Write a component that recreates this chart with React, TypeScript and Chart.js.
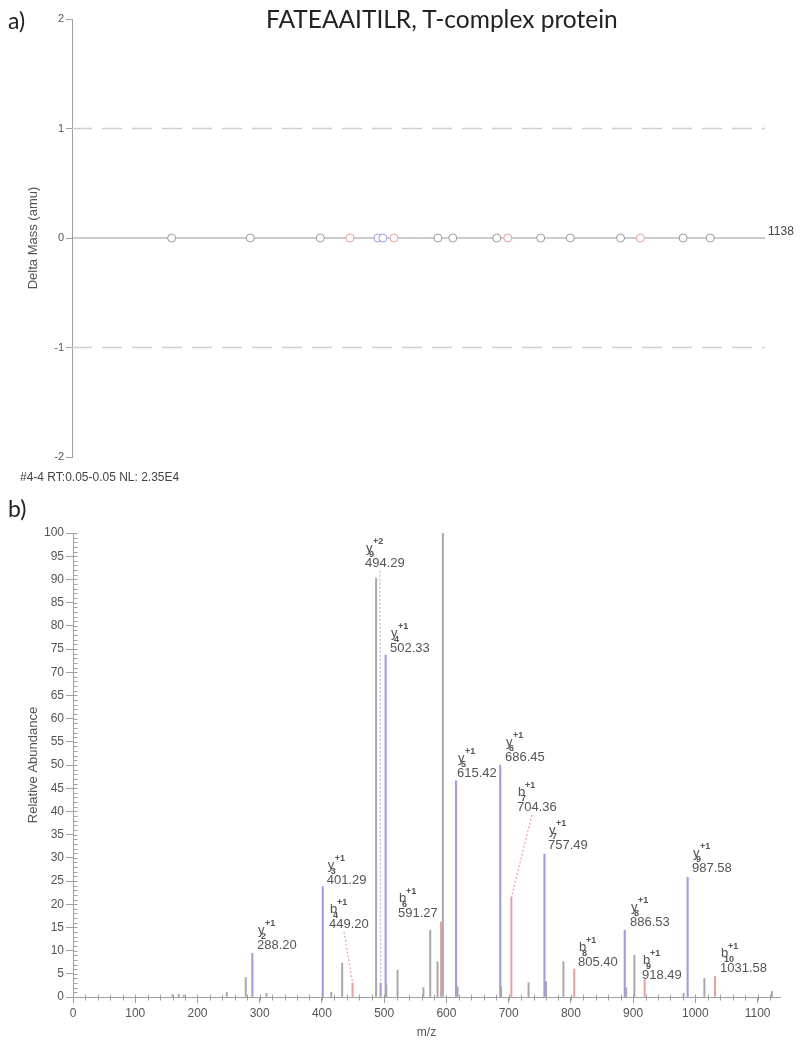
import React, { useEffect, useRef } from "react";
import { Chart, registerables } from "chart.js";
Chart.register(...registerables);

const SANS = "'Liberation Sans', Arial, sans-serif";
Chart.defaults.font.family = SANS;

// ---------- text ----------
const PANEL_A = "a)";
const PANEL_B = "b)";
const TITLE = "FATEAAITILR, T-complex protein";
const SCAN_INFO = "#4-4 RT:0.05-0.05 NL: 2.35E4";
const Y_TITLE_A = "Delta Mass (amu)";
const Y_TITLE_B = "Relative Abundance";
const X_TITLE_B = "m/z";
const END_LABEL_A = "1138";

// ---------- panel a : delta mass of matched ions ----------
const A_X_MAX = 1120;
const A_TICKS = [-2, -1, 0, 1, 2];
const A_REF_DASHED = [1, -1];
const A_MZ = [161, 288.2, 401.29, 449.2, 494.29, 502.33, 520.24, 591.27, 615.42, 686.45, 704.36, 757.49, 805.4, 886.53, 918.49, 987.58, 1031.58];
const A_DELTA = [0, 0, 0, 0, 0, 0, 0, 0, 0, 0, 0, 0, 0, 0, 0, 0, 0];
const A_KIND = ["n", "n", "n", "b", "y", "y", "b", "n", "n", "n", "b", "n", "n", "n", "b", "n", "n"];

// ---------- panel b : spectrum ----------
const B_X_MAX = 1136;
const B_X_TICKS = [0, 100, 200, 300, 400, 500, 600, 700, 800, 900, 1000, 1100];
const GREY_MZ = [160, 170, 178, 247, 277.5, 311, 415, 432.5, 487, 503.5, 521.5, 563, 574, 585.7, 594.3, 617.9, 687.8, 732, 760, 788, 888.8, 902, 981, 1014.5, 1123];
const GREY_I = [0.5, 0.6, 0.4, 1.0, 4.2, 0.8, 1.0, 7.3, 90.3, 2.6, 5.8, 2.0, 14.4, 7.6, 100, 2.2, 2.3, 3.1, 3.3, 7.6, 2.0, 9.0, 0.8, 4.0, 1.2];
const BLUE_MZ = [288.2, 401.29, 494.29, 502.33, 615.42, 686.45, 757.49, 886.53, 987.58];
const BLUE_I = [9.4, 23.8, 3.0, 73.7, 46.6, 50.0, 30.8, 14.4, 25.8];
const RED_MZ = [449.2, 591.27, 704.36, 805.4, 918.49, 1031.58];
const RED_I = [3.0, 16.2, 21.5, 6.0, 3.7, 4.4];

// annotations
const ANN_MZ = [288.2, 401.29, 449.2, 494.29, 502.33, 591.27, 615.42, 686.45, 704.36, 757.49, 805.4, 886.53, 918.49, 987.58, 1031.58];
const ANN_ION = ["y", "y", "b", "y", "y", "b", "y", "y", "b", "y", "b", "y", "b", "y", "b"];
const ANN_NUM = ["2", "3", "4", "9", "4", "6", "5", "6", "7", "7", "8", "8", "9", "9", "10"];
const ANN_CHARGE = ["+1", "+1", "+1", "+2", "+1", "+1", "+1", "+1", "+1", "+1", "+1", "+1", "+1", "+1", "+1"];
// where each label sits (m/z, relative abundance of its baseline)
const ANN_AT_MZ = [295.6, 407.6, 411.3, 469.2, 509.3, 522.2, 617.0, 694.1, 713.4, 763.2, 811.4, 894.9, 914.2, 994.5, 1039.7];
const ANN_AT_I = [10.1, 24.1, 14.7, 92.5, 74.1, 17.0, 47.2, 50.6, 39.9, 31.7, 6.5, 15.1, 3.7, 26.7, 5.2];
const ANN_LEADER = [false, false, true, true, false, false, false, false, true, false, false, false, false, false, false];

const GREY = "#a8a8a8";
const BLUE = "#9c9ce6";
const RED = "#eba0a0";
const AXIS = "#a0a0a0";
const TEXT = "#555555";

const peakHeight = (mz: number, ion: string) => {
  const xs = ion === "b" ? RED_MZ : BLUE_MZ;
  const ys = ion === "b" ? RED_I : BLUE_I;
  const k = xs.indexOf(mz);
  return k >= 0 ? ys[k] : 0;
};

function TopChart() {
  const ref = useRef<HTMLCanvasElement | null>(null);
  useEffect(() => {
    if (!ref.current) return;
    const endLabel = {
      id: "endLabel",
      afterDatasetsDraw(chart: any) {
        const { ctx, chartArea, scales } = chart;
        ctx.save();
        ctx.fillStyle = "#444";
        ctx.font = `12px ${SANS}`;
        ctx.textBaseline = "alphabetic";
        ctx.fillText(END_LABEL_A, chartArea.right + 3, scales.y.getPixelForValue(0) - 3);
        ctx.restore();
      },
    };
    const colorFor = (k: string) => (k === "b" ? RED : k === "y" ? BLUE : "#9a9a9a");
    const chart = new Chart(ref.current, {
      type: "scatter",
      data: {
        datasets: [
          {
            type: "line",
            data: [
              { x: 0, y: 0 },
              { x: A_X_MAX, y: 0 },
            ],
            borderColor: "#999",
            borderWidth: 1,
            pointRadius: 0,
            order: 3,
          } as any,
          ...A_REF_DASHED.map((v) => ({
            type: "line",
            data: [
              { x: 0, y: v },
              { x: A_X_MAX, y: v },
            ],
            borderColor: "#cfcfcf",
            borderWidth: 1.5,
            borderDash: [20, 10],
            pointRadius: 0,
            order: 3,
          })) as any,
          {
            type: "scatter",
            data: A_MZ.map((m, i) => ({ x: m, y: A_DELTA[i] })),
            pointRadius: 4,
            pointBorderWidth: 1,
            pointBorderColor: A_KIND.map(colorFor),
            pointBackgroundColor: "#ffffff",
            order: 1,
          } as any,
        ],
      },
      options: {
        animation: false,
        responsive: false,
        events: [],
        layout: { padding: { left: 26, top: 19, right: 35, bottom: 33 } },
        plugins: { legend: { display: false }, tooltip: { enabled: false } },
        scales: {
          x: { type: "linear", min: 0, max: A_X_MAX, display: false },
          y: {
            min: -2,
            max: 2,
            afterBuildTicks: (s: any) => {
              s.ticks = A_TICKS.map((v) => ({ value: v }));
            },
            afterFit: (s: any) => {
              s.width = 46;
            },
            ticks: { color: TEXT, font: { size: 11 }, padding: 2, callback: (v: any) => `${v}` },
            grid: { drawOnChartArea: false, tickLength: 6, color: AXIS },
            border: { color: AXIS },
            title: { display: true, text: Y_TITLE_A, color: TEXT, font: { size: 13 }, padding: 0 },
          },
        },
      },
      plugins: [endLabel],
    } as any);
    return () => chart.destroy();
  }, []);
  return <canvas ref={ref} width={800} height={490} style={{ position: "absolute", left: 0, top: 0 }} />;
}

function BottomChart() {
  const ref = useRef<HTMLCanvasElement | null>(null);
  useEffect(() => {
    if (!ref.current) return;
    const minorTicks = {
      id: "minorTicks",
      afterDraw(chart: any) {
        const { ctx, scales } = chart;
        const { x, y } = scales;
        ctx.save();
        ctx.strokeStyle = AXIS;
        ctx.lineWidth = 1;
        ctx.beginPath();
        const y0 = Math.round(y.getPixelForValue(0)) + 0.5;
        for (let v = 0; v <= B_X_MAX; v += 20) {
          const px = Math.round(x.getPixelForValue(v)) + 0.5;
          ctx.moveTo(px, y0 - 3);
          ctx.lineTo(px, y0 + 3);
        }
        const x0 = Math.round(x.getPixelForValue(0)) + 0.5;
        for (let v = 0; v <= 100; v += 1) {
          const py = Math.round(y.getPixelForValue(v)) + 0.5;
          ctx.moveTo(x0, py);
          ctx.lineTo(x0 + 4, py);
        }
        ctx.stroke();
        ctx.restore();
      },
    };
    const annotations = {
      id: "annotations",
      afterDatasetsDraw(chart: any) {
        const { ctx, scales } = chart;
        const { x, y } = scales;
        ctx.save();
        ANN_MZ.forEach((mz, i) => {
          const px = x.getPixelForValue(ANN_AT_MZ[i]);
          const py = y.getPixelForValue(ANN_AT_I[i]);
          if (ANN_LEADER[i]) {
            ctx.save();
            ctx.strokeStyle = ANN_ION[i] === "b" ? RED : "#b4b4dc";
            ctx.lineWidth = 1.2;
            ctx.setLineDash([2, 2]);
            ctx.beginPath();
            ctx.moveTo(px + 15, py + 3);
            ctx.lineTo(x.getPixelForValue(mz), y.getPixelForValue(peakHeight(mz, ANN_ION[i])));
            ctx.stroke();
            ctx.restore();
          }
          ctx.fillStyle = TEXT;
          ctx.textBaseline = "alphabetic";
          ctx.textAlign = "left";
          ctx.font = `13px ${SANS}`;
          ctx.fillText(mz.toFixed(2), px, py - 1);
          ctx.font = `13px ${SANS}`;
          ctx.fillText(ANN_ION[i], px + 1, py - 16);
          ctx.font = `bold 9px ${SANS}`;
          ctx.fillText(ANN_NUM[i], px + 4, py - 11);
          ctx.fillText(ANN_CHARGE[i], px + 8, py - 24);
        });
        ctx.restore();
      },
    };
    const barSet = (xs: number[], ys: number[], color: string, w: number) => ({
      type: "bar",
      data: xs.map((m, i) => ({ x: m, y: ys[i] })),
      backgroundColor: color,
      borderWidth: 0,
      barThickness: w,
      grouped: false,
    });
    const chart = new Chart(ref.current, {
      type: "bar",
      data: {
        datasets: [barSet(GREY_MZ, GREY_I, GREY, 1.3), barSet(BLUE_MZ, BLUE_I, BLUE, 1.4), barSet(RED_MZ, RED_I, RED, 1.4)] as any,
      },
      options: {
        animation: false,
        responsive: false,
        events: [],
        layout: { padding: { left: 26, top: 43, right: 20, bottom: 5 } },
        plugins: { legend: { display: false }, tooltip: { enabled: false } },
        scales: {
          x: {
            type: "linear",
            min: 0,
            max: B_X_MAX,
            offset: false,
            afterBuildTicks: (s: any) => {
              s.ticks = B_X_TICKS.map((v) => ({ value: v }));
            },
            afterFit: (s: any) => {
              s.height = 43;
            },
            ticks: { color: TEXT, font: { size: 12 }, padding: 3, maxRotation: 0, autoSkip: false, callback: (v: any) => `${v}` },
            grid: { drawOnChartArea: false, tickLength: 6, color: AXIS, offset: false },
            border: { color: AXIS },
            title: { display: true, text: X_TITLE_B, color: TEXT, font: { size: 12 }, padding: 0 },
          },
          y: {
            min: 0,
            max: 100,
            ticks: { stepSize: 5, color: TEXT, font: { size: 12 }, padding: 2, callback: (v: any) => `${v}` },
            afterFit: (s: any) => {
              s.width = 47;
            },
            grid: { drawOnChartArea: false, tickLength: 7, color: AXIS },
            border: { color: AXIS },
            title: { display: true, text: Y_TITLE_B, color: TEXT, font: { size: 13 }, padding: 0 },
          },
        },
      },
      plugins: [minorTicks, annotations],
    } as any);
    return () => chart.destroy();
  }, []);
  return <canvas ref={ref} width={800} height={555} style={{ position: "absolute", left: 0, top: 490 }} />;
}

export default function App() {
  return (
    <div style={{ position: "absolute", left: 0, top: 0, width: 800, height: 1045, background: "#fff", overflow: "hidden" }}>
      <TopChart />
      <BottomChart />
      <div style={{ position: "absolute", left: 8, top: 6, font: "23px Lato, sans-serif", color: "#222" }}>{PANEL_A}</div>
      <div style={{ position: "absolute", left: 266, top: 4, font: "24.5px Lato, sans-serif", color: "#222", whiteSpace: "nowrap" }}>{TITLE}</div>
      <div style={{ position: "absolute", left: 20, top: 470, font: `12px ${SANS}`, color: "#444", whiteSpace: "nowrap" }}>{SCAN_INFO}</div>
      <div style={{ position: "absolute", left: 8, top: 494, font: "23px Lato, sans-serif", color: "#222" }}>{PANEL_B}</div>
    </div>
  );
}
